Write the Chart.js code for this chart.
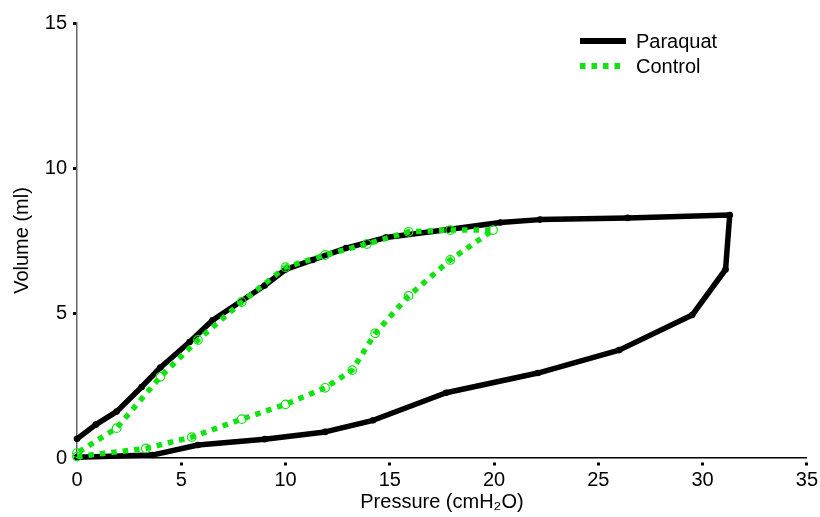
<!DOCTYPE html>
<html>
<head>
<meta charset="utf-8">
<script src="https://cdn.jsdelivr.net/npm/chart.js@4"></script>
<style>
  html, body { margin: 0; padding: 0; background: #fff; }
  #wrap { width: 820px; height: 517px; }
</style>
</head>
<body>
<div id="wrap"><canvas id="myChart" width="820" height="517"></canvas></div>
<script>
// pressure (cmH2O) / volume (ml), inflation then deflation
const paraquatP = [0, 3.6, 5.8, 9, 11.9, 14.2, 17.7, 22.1, 26, 29.5, 31.1, 31.3, 26.4, 22.2, 20.3, 17.8, 14.8, 12.9, 11.3, 10, 9, 6.5, 5.4, 4.0, 3.1, 1.9, 0.9, 0];
const paraquatV = [0.03, 0.1, 0.45, 0.65, 0.9, 1.3, 2.25, 2.93, 3.72, 4.93, 6.5, 8.38, 8.28, 8.22, 8.12, 7.88, 7.6, 7.24, 6.83, 6.5, 5.95, 4.75, 4.0, 3.12, 2.45, 1.6, 1.15, 0.66];
const controlP = [0, 3.3, 5.5, 7.9, 10, 11.9, 13.2, 14.3, 15.9, 17.9, 19.95, 17.9, 15.9, 13.9, 11.9, 10, 7.9, 5.8, 4.0, 1.9, 0];
const controlV = [0.05, 0.33, 0.72, 1.34, 1.85, 2.42, 3.03, 4.3, 5.59, 6.83, 7.86, 7.86, 7.8, 7.38, 7.0, 6.58, 5.38, 4.07, 2.8, 1.03, 0.17];
const xTicks = [0, 5, 10, 15, 20, 25, 30, 35];
const yTicks = [0, 5, 10, 15];

const green = '#12e212';
const font = 'Liberation Sans, Arial, sans-serif';

const toPoints = (xs, ys) => xs.map((x, i) => ({ x: x, y: ys[i] }));

const legendLines = {
  id: 'legendLines',
  afterDraw(chart) {
    const ctx = chart.ctx;
    const items = [
      { text: 'Paraquat', color: '#000', dash: [] },
      { text: 'Control', color: green, dash: [5.5, 6] }
    ];
    ctx.save();
    items.forEach((it, i) => {
      const y = 41 + i * 25;
      ctx.beginPath();
      ctx.setLineDash(it.dash);
      ctx.lineCap = 'butt';
      ctx.lineWidth = 6;
      ctx.strokeStyle = it.color;
      ctx.moveTo(580, y);
      ctx.lineTo(626, y);
      ctx.stroke();
      ctx.setLineDash([]);
      ctx.fillStyle = '#000';
      ctx.font = '20px ' + font;
      ctx.textBaseline = 'middle';
      ctx.fillText(it.text, 636, y + 1);
    });
    ctx.restore();
  }
};

const tickColor = (c) => (c.tick && c.tick.value === 0 ? 'rgba(0,0,0,0)' : '#000');

const ctx = document.getElementById('myChart').getContext('2d');
const myChart = new Chart(ctx, {
  type: 'scatter',
  data: {
    datasets: [
      {
        label: 'Paraquat',
        data: toPoints(paraquatP, paraquatV),
        showLine: true,
        borderColor: '#000',
        backgroundColor: '#000',
        borderWidth: 5.5,
        borderJoinStyle: 'round',
        pointRadius: 3.3,
        pointBorderWidth: 0,
        pointBackgroundColor: '#000',
        order: 2,
        clip: false
      },
      {
        label: 'Control',
        data: toPoints(controlP, controlV),
        showLine: true,
        borderColor: green,
        backgroundColor: green,
        borderWidth: 5.5,
        borderDash: [5.5, 6],
        pointRadius: 4.3,
        pointBorderWidth: 1.2,
        pointBorderColor: green,
        pointBackgroundColor: 'rgba(0,0,0,0)',
        order: 1,
        clip: false
      }
    ]
  },
  options: {
    responsive: false,
    animation: false,
    layout: { padding: { top: 23, right: 12, left: 10, bottom: 3 } },
    plugins: {
      legend: { display: false },
      tooltip: { enabled: false }
    },
    scales: {
      x: {
        type: 'linear',
        min: 0,
        max: 35,
        afterBuildTicks: (s) => { s.ticks = xTicks.map(v => ({ value: v })); },
        afterFit: (s) => { s.height = 56; },
        ticks: { color: '#000', font: { family: font, size: 20 }, padding: 2 },
        grid: {
          drawOnChartArea: false,
          drawTicks: true,
          tickLength: 8,
          tickWidth: 3,
          tickBorderDash: [0, 4, 3, 100],
          tickColor: tickColor
        },
        border: { color: '#000', width: 1.5 },
        title: {
          display: true,
          text: 'Pressure (cmH₂O)',
          color: '#000',
          font: { family: font, size: 20 },
          padding: { top: 0, bottom: 0 }
        }
      },
      y: {
        type: 'linear',
        min: 0,
        max: 15,
        afterBuildTicks: (s) => { s.ticks = yTicks.map(v => ({ value: v })); },
        afterFit: (s) => { s.width = 67; },
        ticks: { color: '#000', font: { family: font, size: 20 }, padding: 4 },
        grid: {
          drawOnChartArea: false,
          drawTicks: true,
          tickLength: 6,
          tickWidth: 3,
          tickBorderDash: [0, 2, 3, 100],
          tickColor: tickColor
        },
        border: { color: '#666', width: 1.5 },
        title: {
          display: true,
          text: 'Volume (ml)',
          color: '#000',
          font: { family: font, size: 20 },
          padding: { top: 0, bottom: 6 }
        }
      }
    }
  },
  plugins: [legendLines]
});
</script>
</body>
</html>
